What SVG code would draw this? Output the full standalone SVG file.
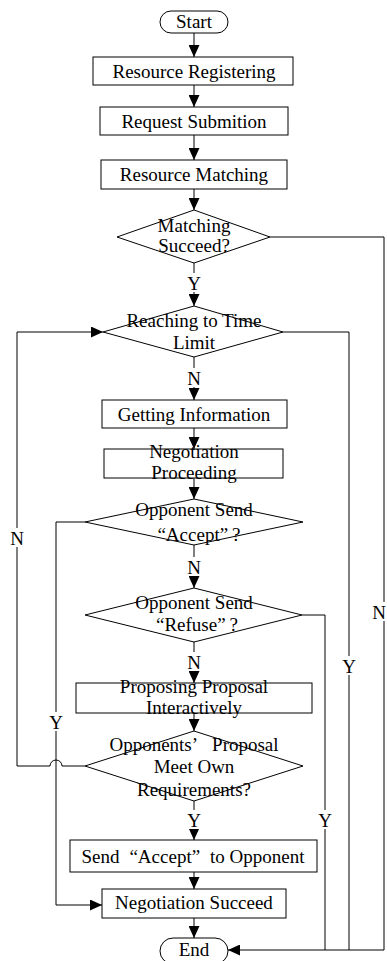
<svg xmlns="http://www.w3.org/2000/svg" width="387" height="961" viewBox="0 0 387 961">
  <style>
    .box { fill: #fff; stroke: #000; stroke-width: 1; }
    .txt { font-family: "Liberation Serif", "Times New Roman", serif; font-size: 19px; fill: #000; text-anchor: middle; }
    .edge { fill: none; stroke: #000; stroke-width: 1; }
    .arr { marker-end: url(#head); }
    .bg { fill: #fff; stroke: none; }
  </style>
  <defs>
    <marker id="head" markerUnits="userSpaceOnUse" markerWidth="12" markerHeight="11" refX="12" refY="5.5" orient="auto">
      <path d="M0,0 L12,5.5 L0,11 z" fill="#000"/>
    </marker>
  </defs>
  <rect width="387" height="961" fill="#fff"/>

  <!-- connectors -->
  <g id="connectors">
    <path class="edge arr" d="M194,33 V57"/>
    <path class="edge arr" d="M194,85 V107"/>
    <path class="edge arr" d="M194,135 V160"/>
    <path class="edge arr" d="M194,189 V210"/>
    <path class="edge arr" d="M194,263 V306"/>
    <path class="edge arr" d="M194,357 V400"/>
    <path class="edge arr" d="M194,428 V449"/>
    <path class="edge arr" d="M194,478 V499"/>
    <path class="edge arr" d="M194,545 V588"/>
    <path class="edge arr" d="M194,642 V683"/>
    <path class="edge arr" d="M194,713 V731"/>
    <path class="edge arr" d="M194,801 V840"/>
    <path class="edge arr" d="M194,872 V889"/>
    <path class="edge arr" d="M194,918 V938"/>
    <!-- accept: yes -->
    <path class="edge arr" d="M85,522 H56 V905 H102"/>
    <!-- refuse: yes -->
    <path class="edge" d="M302,615 H325 V950"/>
    <!-- time limit reached -->
    <path class="edge" d="M283,332 H349 V950"/>
    <!-- matching failed -->
    <path class="edge arr" d="M270,237 H384 V950 H228"/>
    <!-- proposal rejected: loop back, hopping over the accept line -->
    <path class="edge arr" d="M85,766 H62 A6,6 0 0 0 50,766 H17 V332 H103"/>

    <!-- branch labels -->
    <g id="labels">
      <rect class="bg" x="187" y="273" width="14" height="19"/>
      <text class="txt" x="194" y="290">Y</text>
      <rect class="bg" x="187" y="368" width="14" height="19"/>
      <text class="txt" x="194" y="385">N</text>
      <rect class="bg" x="187" y="557" width="14" height="19"/>
      <text class="txt" x="194" y="574">N</text>
      <rect class="bg" x="187" y="652" width="14" height="19"/>
      <text class="txt" x="194" y="669">N</text>
      <rect class="bg" x="187" y="810" width="14" height="19"/>
      <text class="txt" x="194" y="827">Y</text>
      <rect class="bg" x="49" y="712" width="14" height="19"/>
      <text class="txt" x="56" y="729">Y</text>
      <rect class="bg" x="318" y="810" width="14" height="19"/>
      <text class="txt" x="325" y="827">Y</text>
      <rect class="bg" x="342" y="656" width="14" height="19"/>
      <text class="txt" x="349" y="673">Y</text>
      <rect class="bg" x="372" y="602" width="15" height="19"/>
      <text class="txt" x="379" y="619">N</text>
      <rect class="bg" x="10" y="528" width="14" height="19"/>
      <text class="txt" x="17" y="545">N</text>
    </g>
  </g>

  <!-- nodes -->
  <g id="start">
    <rect class="box" x="160" y="11" width="68" height="22" rx="11"/>
    <text class="txt" x="194" y="28">Start</text>
  </g>
  <g id="register">
    <rect class="box" x="93" y="57" width="200" height="28"/>
    <text class="txt" x="194" y="78">Resource Registering</text>
  </g>
  <g id="submit">
    <rect class="box" x="100" y="107" width="188" height="28"/>
    <text class="txt" x="194" y="128">Request Submition</text>
  </g>
  <g id="match">
    <rect class="box" x="101" y="160" width="186" height="29"/>
    <text class="txt" x="194" y="181">Resource Matching</text>
  </g>
  <g id="match-ok">
    <polygon class="box" points="194,210 270,237 194,263 117,237"/>
    <text class="txt" x="194" y="232">Matching</text>
    <text class="txt" x="194" y="252">Succeed?</text>
  </g>
  <g id="time-limit">
    <polygon class="box" points="194,306 283,332 194,357 103,332"/>
    <text class="txt" x="194" y="327">Reaching to Time</text>
    <text class="txt" x="194" y="349">Limit</text>
  </g>
  <g id="get-info">
    <rect class="box" x="102" y="400" width="185" height="28"/>
    <text class="txt" x="194" y="421">Getting Information</text>
  </g>
  <g id="negotiate">
    <rect class="box" x="104" y="449" width="179" height="29"/>
    <text class="txt" x="194" y="458">Negotiation</text>
    <text class="txt" x="194" y="479">Proceeding</text>
  </g>
  <g id="got-accept">
    <polygon class="box" points="194,499 303,522 194,545 85,522"/>
    <text class="txt" x="194" y="516">Opponent Send</text>
    <text class="txt" x="199" y="541">“Accept”<tspan dx="4">?</tspan></text>
  </g>
  <g id="got-refuse">
    <polygon class="box" points="194,588 302,615 194,642 85,615"/>
    <text class="txt" x="194" y="609">Opponent Send</text>
    <text class="txt" x="197" y="631">“Refuse”<tspan dx="4">?</tspan></text>
  </g>
  <g id="propose">
    <rect class="box" x="76" y="683" width="236" height="30"/>
    <text class="txt" x="194" y="693">Proposing Proposal</text>
    <text class="txt" x="194" y="714">Interactively</text>
  </g>
  <g id="meets-req">
    <polygon class="box" points="194,731 303,766 194,801 85,766"/>
    <text class="txt" x="194" y="751">Opponents’<tspan dx="14">Proposal</tspan></text>
    <text class="txt" x="194" y="773">Meet Own</text>
    <text class="txt" x="194" y="796">Requirements?</text>
  </g>
  <g id="send-accept">
    <rect class="box" x="70" y="840" width="247" height="32"/>
    <text class="txt" x="193" y="863">Send<tspan dx="10">“Accept”</tspan><tspan dx="10">to Opponent</tspan></text>
  </g>
  <g id="success">
    <rect class="box" x="102" y="889" width="184" height="29"/>
    <text class="txt" x="194" y="909">Negotiation Succeed</text>
  </g>
  <g id="end">
    <rect class="box" x="160" y="938" width="68" height="26" rx="13"/>
    <text class="txt" x="194" y="956">End</text>
  </g>
</svg>
